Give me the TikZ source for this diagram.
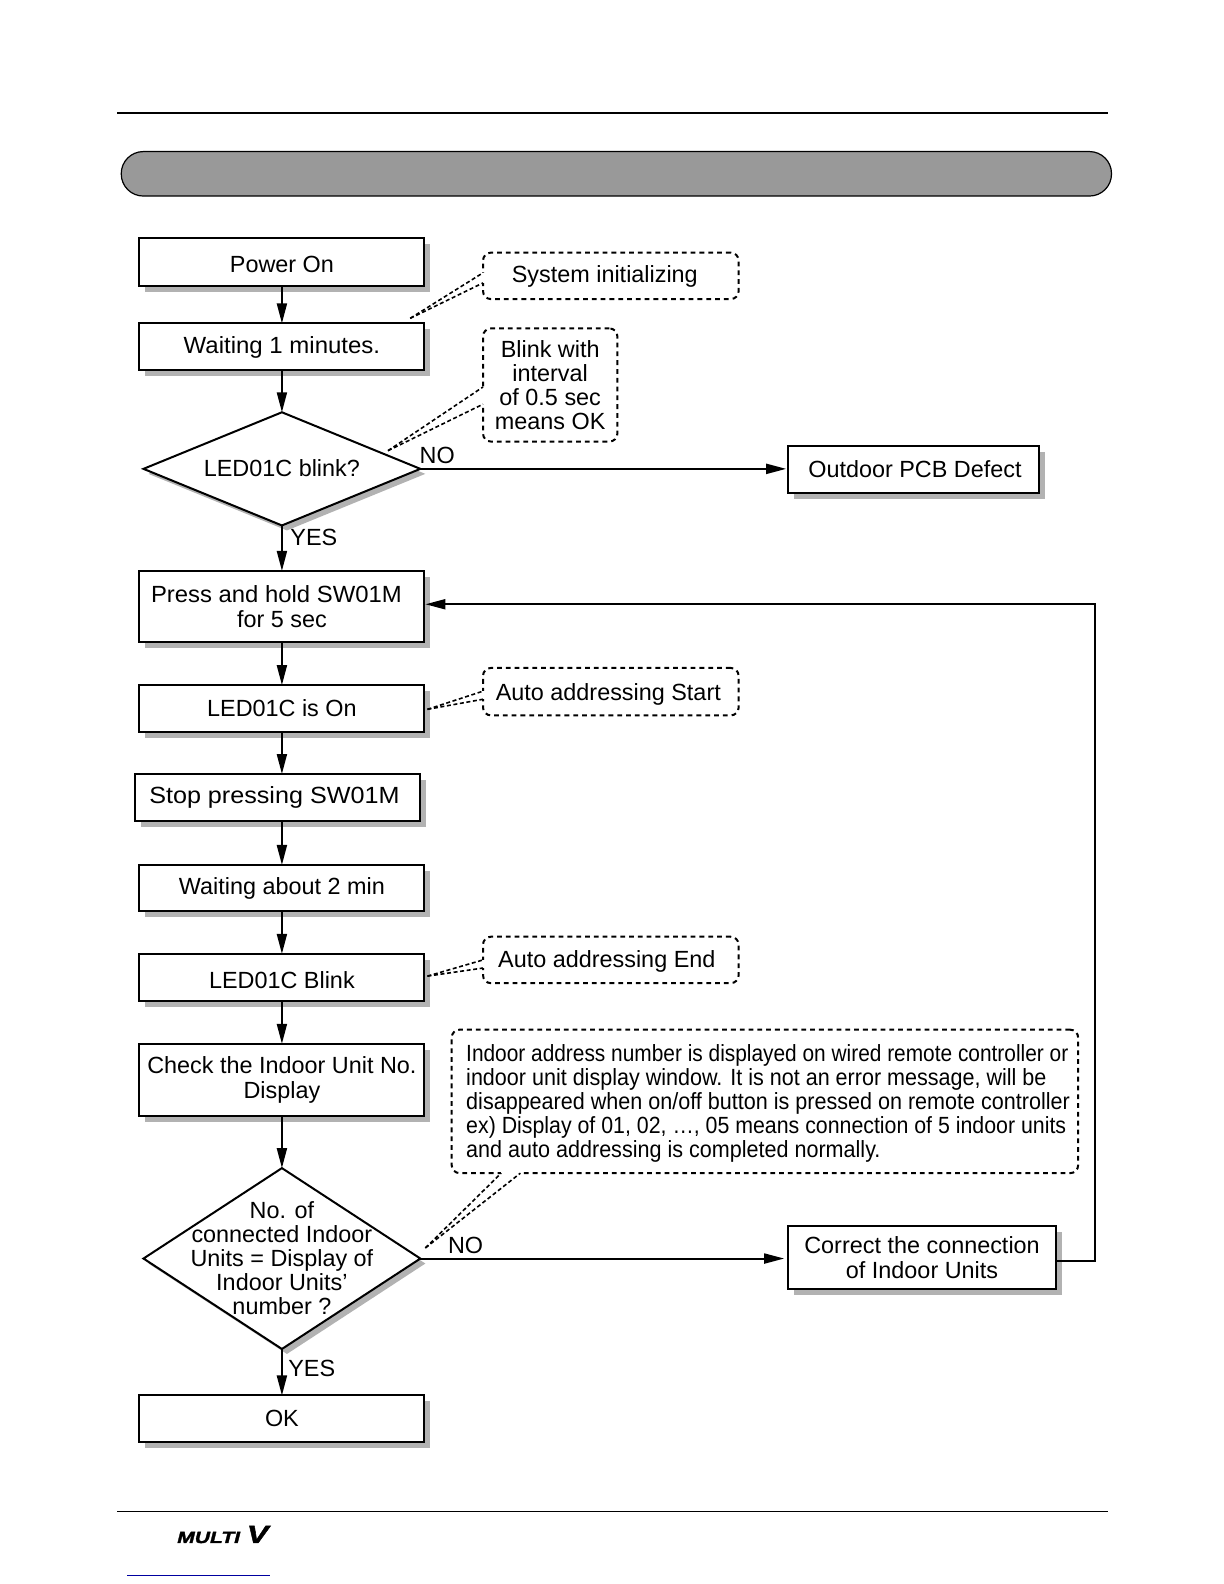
\documentclass[tikz,border=0pt]{standalone}
\usepackage{fontspec}
\setmainfont{Liberation Sans}
\newfontfamily\narrowf[FakeStretch=0.892]{Liberation Sans}
\newfontfamily\logof[BoldFeatures={FakeBold=2,FakeSlant=0.25,FakeStretch=1.3}]{Liberation Sans}
\usetikzlibrary{shapes.geometric,shadows,arrows.meta}
\definecolor{bandgray}{HTML}{999999}
\definecolor{shadowgray}{HTML}{B2B2B2}
\definecolor{linkblue}{HTML}{0000A0}
\def\uu{0.50525}
\tikzset{
  x=0.50525pt,y=-0.50525pt,
  box/.style={draw,line width=1pt,fill=white,inner sep=0pt,outer sep=0pt,align=center,font=\fontsize{11.7}{12.4}\selectfont,
     general shadow={shadow xshift=3pt,shadow yshift=-3pt,fill=shadowgray}},
  dia/.style={diamond,draw,line width=1pt,fill=white,inner sep=0pt,outer sep=0pt,
     general shadow={shadow xshift=2.5pt,shadow yshift=-2.5pt,fill=shadowgray}},
  note/.style={draw,line width=1pt,dash pattern=on 2.4pt off 2pt,rounded corners=4pt,fill=white,inner sep=0pt,align=center,font=\fontsize{11.7}{12}\selectfont},
  txt/.style={inner sep=0pt,align=center,font=\fontsize{11.7}{12.05}\selectfont},
  flow/.style={line width=1pt,-{Triangle[length=10pt,width=5pt]}},
  plain/.style={line width=1pt},
  leader/.style={line width=0.8pt,dash pattern=on 2pt off 1.3pt},
  gap/.style={white,line width=1.6pt},
  rule/.style={line width=0.7pt},
  lab/.style={inner sep=0pt,font=\fontsize{11.7}{13}\selectfont},
}
\newcommand{\rbox}[7][box]{\node[#1,minimum width={(#5-#3)*\uu pt},minimum height={(#6-#4)*\uu pt}] (#2) at ({(#3+#5)/2},{(#4+#6)/2}) {#7};}
\newcommand{\dn}[2]{\raisebox{0pt}[\dimexpr\height+#1*2\relax][\depth]{#2}}
\begin{document}
\begin{tikzpicture}
\useasboundingbox (0,0) rectangle (1211.3,1567.6);
% rules and band
\coordinate (tl) at (116,112); \coordinate (tr) at (1097,112);
\coordinate (bl) at (116,1496); \coordinate (br) at (1097,1496);
\draw[rule] (tl) -- (tr);
\draw[rule] (bl) -- (br);
\node[draw,line width=0.6pt,fill=bandgray,rounded corners=11pt,minimum width={980*\uu pt},minimum height={44*\uu pt},inner sep=0pt] (band) at (610,172) {};
% boxes
\rbox{pwr}{138}{236}{420}{283}{\dn{1pt}{Power On}}
\rbox{wait}{138}{320}{420}{366}{\dn{0.5pt}{\scalebox{1.025}[1]{Waiting 1 minutes.}}}
\rbox{press}{138}{565}{420}{635}{\scalebox{1.02}[1]{Press and hold SW01M}\hspace*{5.5pt}\\for 5 sec}
\rbox{ledon}{138}{678}{420}{724}{LED01C is On}
\rbox{stop}{134}{766}{416}{812}{\scalebox{1.075}[1]{Stop pressing SW01M}\hspace*{3.5pt}}
\rbox{waittwo}{138}{856}{420}{902}{Waiting about 2 min}
\rbox{blink}{138}{944}{420}{991}{\dn{1.5pt}{LED01C Blink}}
\rbox{check}{138}{1033}{420}{1104}{Check the Indoor Unit No.\\Display}
\rbox{ok}{138}{1381}{420}{1427}{OK}
\rbox{defect}{780}{441}{1028}{488}{Outdoor PCB Defect\hspace*{-1.5pt}}
\rbox{correct}{780}{1213}{1045}{1276}{Correct the connection\\of Indoor Units}
% diamonds
\node[dia,minimum width={274*\uu pt},minimum height={112*\uu pt}] (done) at (279,464) {};
\node[txt] (donet) at (279,463) {LED01C blink?};
\node[dia,minimum width={274*\uu pt},minimum height={179*\uu pt}] (dtwo) at (279,1245.5) {};
\node[txt] (dtwot) at (279,1245) {No. of\\connected Indoor\\Units = Display of\\Indoor Units’\\number ?};
% notes
\rbox[note]{nsys}{478}{250}{731}{296}{\dn{0.5pt}{System initializing}\hspace*{6pt}}
\rbox[note]{nblink}{478}{325}{611}{437}{Blink with\\interval\\of 0.5 sec\\means OK}
\rbox[note]{nstart}{478}{661}{731}{708}{\dn{1.5pt}{Auto addressing Start}\hspace*{2.5pt}}
\rbox[note]{nend}{478}{927}{731}{973}{\dn{0.5pt}{Auto addressing End}\hspace*{4pt}}
\rbox[note]{nbig}{447}{1019}{1067}{1161}{}
\node[inner sep=0pt,anchor=west,align=left,font=\narrowf\fontsize{11.7}{12.12}\selectfont] (nbigt) at (461,1092) {Indoor address number is displayed on wired remote controller or\\\scalebox{1.032}[1]{indoor unit display window. It is not an error message, will be}\\\scalebox{1.033}[1]{disappeared when on/off button is pressed on remote controller}\\\scalebox{1.022}[1]{ex) Display of 01, 02, \dots, 05 means connection of 5 indoor units}\\\scalebox{1.033}[1]{and auto addressing is completed normally.}};
% leaders
\coordinate (sa) at (478,270); \coordinate (sb) at (478,280); \coordinate (sc) at (406,315);
\draw[gap] (sa) -- (sb);
\draw[leader] (sc) -- (sa); \draw[leader] (sc) -- (sb);
\coordinate (ba) at (478,383); \coordinate (bb) at (478,400); \coordinate (bc) at (384,446);
\draw[gap] (ba) -- (bb);
\draw[leader] (bc) -- (ba); \draw[leader] (bc) -- (bb);
\coordinate (aa) at (478,684); \coordinate (ab) at (478,692); \coordinate (ac) at (423,702);
\draw[gap] (aa) -- (ab);
\draw[leader] (ac) -- (aa); \draw[leader] (ac) -- (ab);
\coordinate (ea) at (478,950); \coordinate (eb) at (478,958); \coordinate (ec) at (423,966);
\draw[gap] (ea) -- (eb);
\draw[leader] (ec) -- (ea); \draw[leader] (ec) -- (eb);
\coordinate (ga) at (496,1161); \coordinate (gb) at (515,1161); \coordinate (gc) at (421,1235);
\draw[gap] (ga) -- (gb);
\draw[leader] (gc) -- (ga); \draw[leader] (gc) -- (gb);
% flow
\draw[flow] (pwr) -- (wait);
\draw[flow] (wait) -- (done);
\draw[flow] (done) -- (press);
\draw[flow] (press) -- (ledon);
\draw[flow] (ledon) -- (stop.north -| ledon);
\draw[flow] (stop.south -| waittwo) -- (waittwo);
\draw[flow] (waittwo) -- (blink);
\draw[flow] (blink) -- (check);
\draw[flow] (check) -- (dtwo);
\draw[flow] (dtwo) -- (ok);
\draw[flow,shorten >=1pt] (done.east) -- (defect.west |- done.east);
\draw[flow,shorten >=2pt] (dtwo.east) -- (correct.west |- dtwo.east);
\coordinate (fa) at (1084,1248); \coordinate (fb) at (1084,598); \coordinate (fc) at (421,598);
\draw[flow] (fa -| correct.east) -- (fa) -- (fb) -- (fc);
% labels
\node[lab,anchor=west] (lno) at (415,451) {NO};
\node[lab,anchor=west] (lyes) at (287,532) {YES};
\node[lab,anchor=west] (lnotwo) at (443,1233) {NO};
\node[lab,anchor=west] (lyestwo) at (285,1354) {YES};
% footer
\node[inner sep=0pt,anchor=base west,font=\logof\bfseries\fontsize{8.1}{9}\selectfont] (logo) at (174,1527) {MULTI};
\node[inner sep=0pt,anchor=base west,font=\logof\bfseries\fontsize{12.5}{13}\selectfont] (logov) at (242,1527) {V};
\coordinate (ula) at (126,1559); \coordinate (ulb) at (267,1559);
\draw[linkblue,line width=0.7pt] (ula) -- (ulb);
\end{tikzpicture}
\end{document}
